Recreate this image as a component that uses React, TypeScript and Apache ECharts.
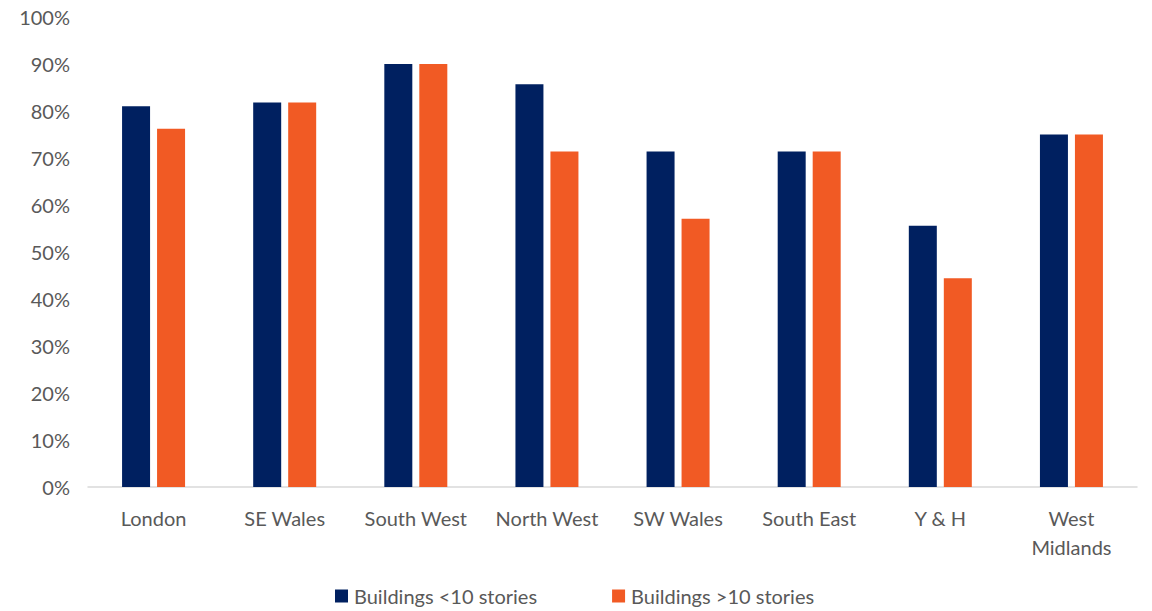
import React, { useEffect, useRef } from "react";
import * as echarts from "echarts";

const categories = ["London", "SE Wales", "South West", "North West", "SW Wales", "South East", "Y & H", "West\nMidlands"];
const below10 = [81.0, 81.8, 90.0, 85.7, 71.4, 71.4, 55.6, 75.0];
const above10 = [76.2, 81.8, 90.0, 71.4, 57.1, 71.4, 44.4, 75.0];
const seriesNames = ["Buildings <10 stories", "Buildings >10 stories"];

const FONT = "Lato";
const TEXT = "#595959";

export default function App() {
  const ref = useRef<HTMLDivElement>(null);
  useEffect(() => {
    if (!ref.current) return;
    const chart = echarts.init(ref.current, null, { renderer: "svg" });
    chart.setOption({
      animation: false,
      backgroundColor: "#ffffff",
      grid: { left: 88, right: 15, top: 17, bottom: 124, containLabel: false },
      legend: {
        data: seriesNames,
        left: 335,
        top: 586,
        padding: 0,
        icon: "rect",
        itemWidth: 13,
        itemHeight: 13,
        itemGap: 75,
        textStyle: { color: TEXT, fontFamily: FONT, fontSize: 20, lineHeight: 17, padding: [0, 0, 0, 1] },
      },
      xAxis: {
        type: "category",
        data: categories,
        axisLine: { lineStyle: { color: "#d9d9d9", width: 1.5 } },
        axisTick: { show: false },
        axisLabel: { color: TEXT, fontFamily: FONT, fontSize: 20, margin: 16, lineHeight: 29, interval: 0 },
      },
      yAxis: {
        type: "value",
        min: 0,
        max: 100,
        interval: 10,
        splitLine: { show: false },
        axisLine: { show: false },
        axisTick: { show: false },
        axisLabel: { color: TEXT, fontFamily: FONT, fontSize: 20, margin: 18, formatter: "{value}%" },
      },
      series: [
        {
          name: seriesNames[0],
          type: "bar",
          data: below10,
          barWidth: 28,
          barGap: "25%",
          itemStyle: { color: "#002060" },
        },
        {
          name: seriesNames[1],
          type: "bar",
          data: above10,
          barWidth: 28,
          barGap: "25%",
          itemStyle: { color: "#F15A24" },
        },
      ],
    });
    return () => chart.dispose();
  }, []);
  return <div ref={ref} style={{ width: 1152, height: 611, position: "absolute", left: 0, top: 0 }} />;
}
